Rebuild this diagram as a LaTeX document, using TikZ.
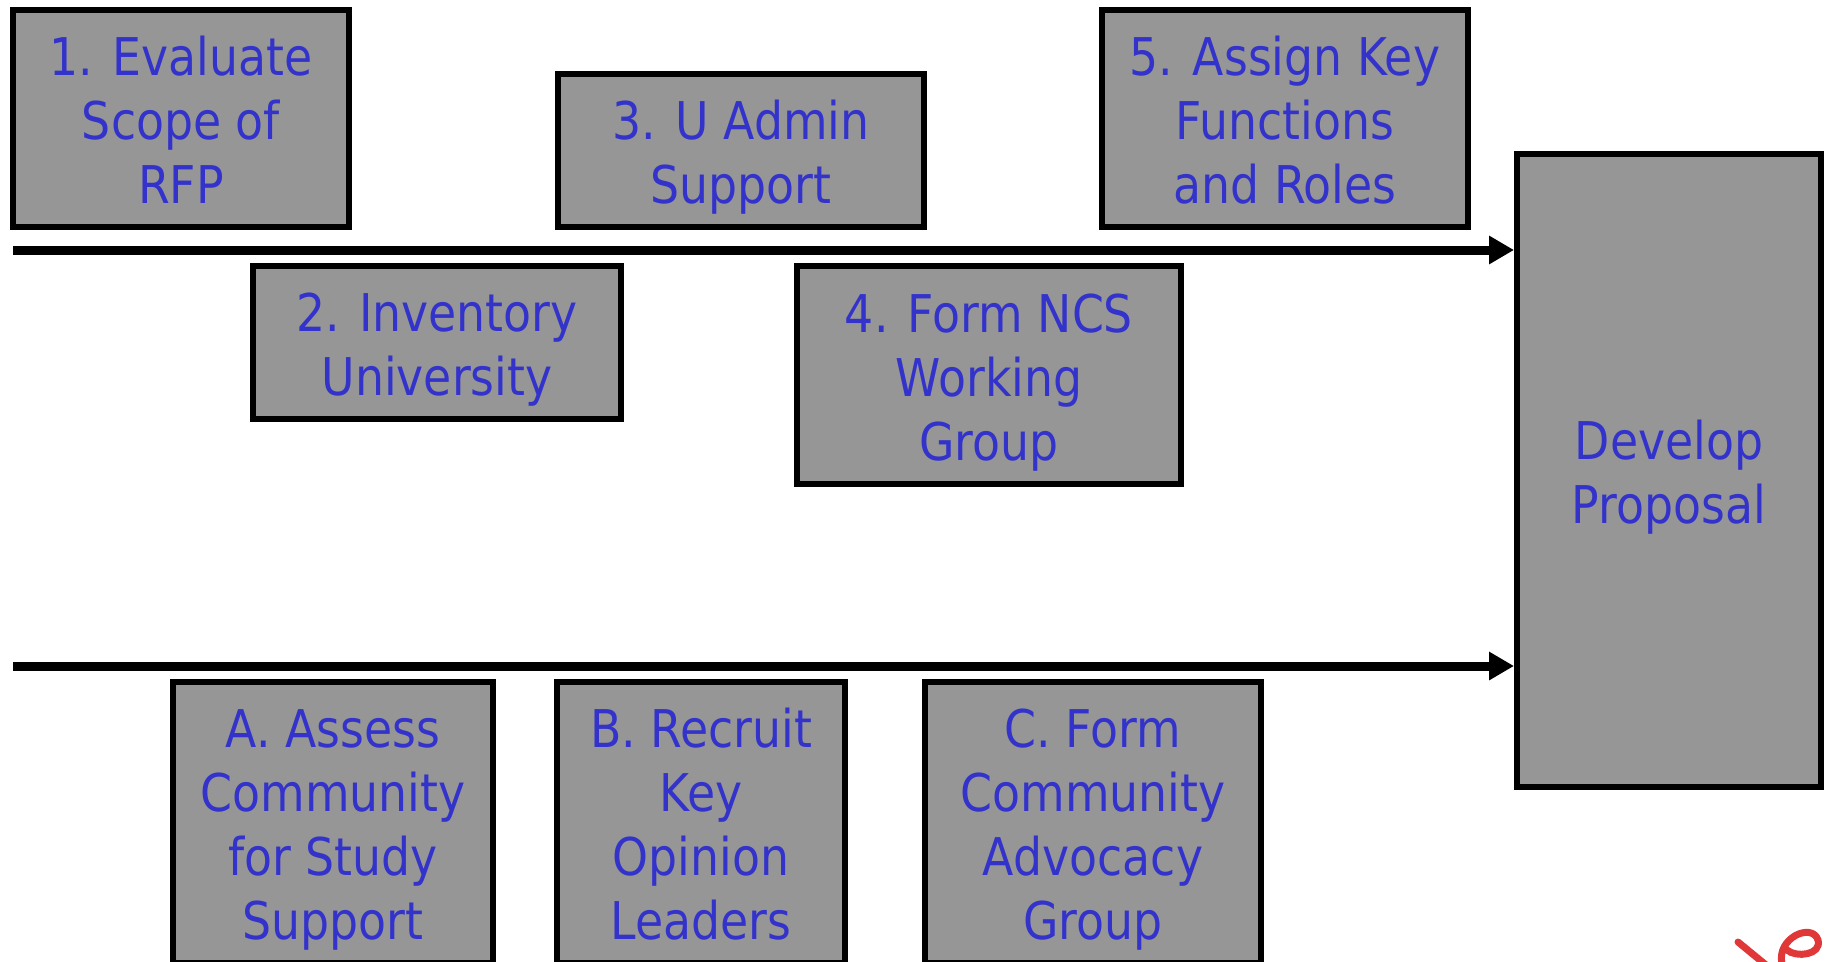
\documentclass[tikz,border=0pt]{standalone}
\usepackage{fontspec}
\setmainfont{DejaVu Sans}[FakeStretch=0.88]
\usetikzlibrary{arrows.meta}
\definecolor{boxgray}{RGB}{150,150,150}
\definecolor{textblue}{RGB}{51,51,204}
\definecolor{inkred}{RGB}{224,56,56}
\newcommand\tstrut{\rule{0pt}{56pt}}
\newcommand\bstrut{\rule[-14pt]{0pt}{14pt}}
\begin{document}
\begin{tikzpicture}[x=1pt,y=-1pt,
  stepbox/.style={draw=black, line width=6pt, fill=boxgray, text=textblue,
    align=center, inner sep=0pt, font=\fontsize{52}{64}\selectfont},
  flow/.style={line width=9pt, -{Triangle[length=25pt,width=27pt]}}]
\useasboundingbox (0,0) rectangle (1825,961);
\fill[white] (0,0) rectangle (1825,961);

\node[stepbox, minimum width=336pt, minimum height=217pt] (s1) at (181,118.5) {\tstrut 1. Evaluate\\Scope of\\RFP\bstrut};
\node[stepbox, minimum width=368pt, minimum height=153pt] (s2) at (437,342.5) {\tstrut 2. Inventory\\University\bstrut};
\node[stepbox, minimum width=366pt, minimum height=153pt] (s3) at (741,150.5) {\tstrut 3. U Admin\\Support\bstrut};
\node[stepbox, minimum width=384pt, minimum height=218pt] (s4) at (989,375) {\tstrut 4. Form NCS\\Working\\Group\bstrut};
\node[stepbox, minimum width=366pt, minimum height=217pt] (s5) at (1285,118.5) {\tstrut 5. Assign Key\\Functions\\and Roles\bstrut};
\node[stepbox, minimum width=304pt, minimum height=633pt] (dev) at (1669,470.5) {\tstrut Develop\\Proposal\bstrut};

\node[stepbox, minimum width=320pt, minimum height=281pt] (sa) at (333,822.5) {\tstrut A. Assess\\Community\\for Study\\Support\bstrut};
\node[stepbox, minimum width=288pt, minimum height=281pt] (sb) at (701,822.5) {\tstrut B. Recruit\\Key\\Opinion\\Leaders\bstrut};
\node[stepbox, minimum width=336pt, minimum height=281pt] (sc) at (1093,822.5) {\tstrut C. Form\\Community\\Advocacy\\Group\bstrut};

\coordinate (t0) at (13,250);
\coordinate (b0) at (13,666);
\draw[flow] (t0) -- (dev.west |- t0);
\draw[flow] (b0) -- (dev.west |- b0);

\draw[inkred, line width=7pt, line cap=round] (1738,942) -- (1766,965);
\draw[inkred, line width=7pt, line cap=round] (1782,964) .. controls (1776,938) and (1812,922) .. (1818,940) .. controls (1822,955) and (1796,958) .. (1787,950);
\end{tikzpicture}
\end{document}
